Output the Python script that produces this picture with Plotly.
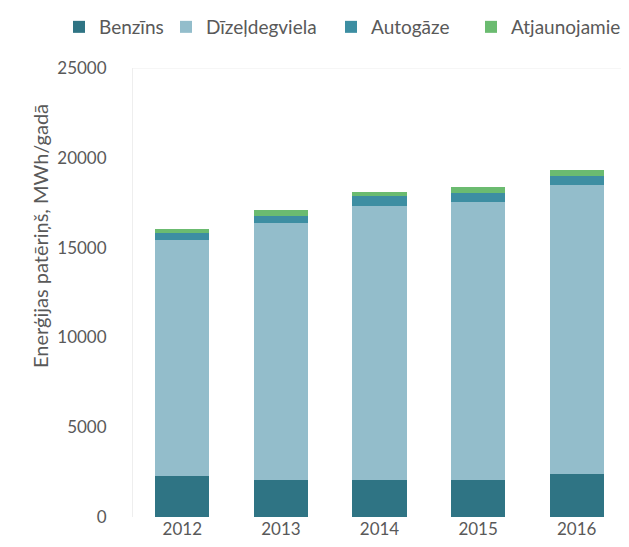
import plotly.graph_objects as go

years = ["2012", "2013", "2014", "2015", "2016"]
benzins = [2300, 2050, 2050, 2050, 2400]
dizeldegviela = [13100, 14300, 15250, 15470, 16070]
autogaze = [400, 430, 560, 520, 530]
atjaunojamie = [230, 310, 250, 320, 300]
y_ticks = [0, 5000, 10000, 15000, 20000, 25000]
y_tick_labels = ["0", "5000", "10000", "15000", "20000", "25000"]
y_title = "Enerģijas patēriņš, MWh/gadā"

series = [
    ("Benzīns", benzins, "#2f7484"),
    ("Dīzeļdegviela", dizeldegviela, "#93bdcb"),
    ("Autogāze", autogaze, "#3d8ea2"),
    ("Atjaunojamie", atjaunojamie, "#6bbb70"),
]
legend_ids = ["legend", "legend2", "legend3", "legend4"]
legend_x = [51, 158, 323, 463]

W, H = 629, 547
ML, MR, MT, MB = 125, 11, 60, 38

fig = go.Figure()
for (name, vals, col), lid in zip(series, legend_ids):
    fig.add_trace(go.Bar(x=years, y=vals, name=name, marker_color=col,
                         marker_line_width=0, legend=lid, showlegend=True))

font_fam = "Lato, 'Open Sans', sans-serif"
legend_style = {}
for lid, lx in zip(legend_ids, legend_x):
    legend_style[lid] = dict(orientation="h", xref="container", x=lx / W,
                             xanchor="left", y=1.0, yref="container",
                             yanchor="top", bgcolor="rgba(0,0,0,0)",
                             font=dict(size=19, color="#595959"), itemwidth=30)

fig.update_layout(
    barmode="stack",
    bargap=0.45,
    showlegend=True,
    width=W, height=H,
    margin=dict(l=ML, r=MR, t=MT, b=MB, autoexpand=False),
    paper_bgcolor="white",
    plot_bgcolor="white",
    font=dict(family=font_fam, color="#595959", size=17),
    xaxis=dict(showgrid=False, showline=False, ticks="", tickfont=dict(size=17)),
    yaxis=dict(range=[0, 25000], tickvals=y_ticks, ticktext=y_tick_labels,
               showgrid=False, showline=True, linecolor="#eeeeee",
               ticks="", tickfont=dict(size=17), ticklabelstandoff=22),
    **legend_style,
)
pw = W - ML - MR
ph = H - MT - MB
fig.add_annotation(text=y_title, textangle=-90, showarrow=False,
                   xref="paper", yref="paper",
                   x=(32 - ML) / pw, y=(H - MB - 228) / ph,
                   xanchor="center", yanchor="middle",
                   font=dict(size=20, color="#595959"))
fig.add_shape(type="line", xref="paper", yref="y", x0=0, x1=1, y0=25000, y1=25000,
              line=dict(color="#eeeeee", width=1))
fig.write_html("out.html")
